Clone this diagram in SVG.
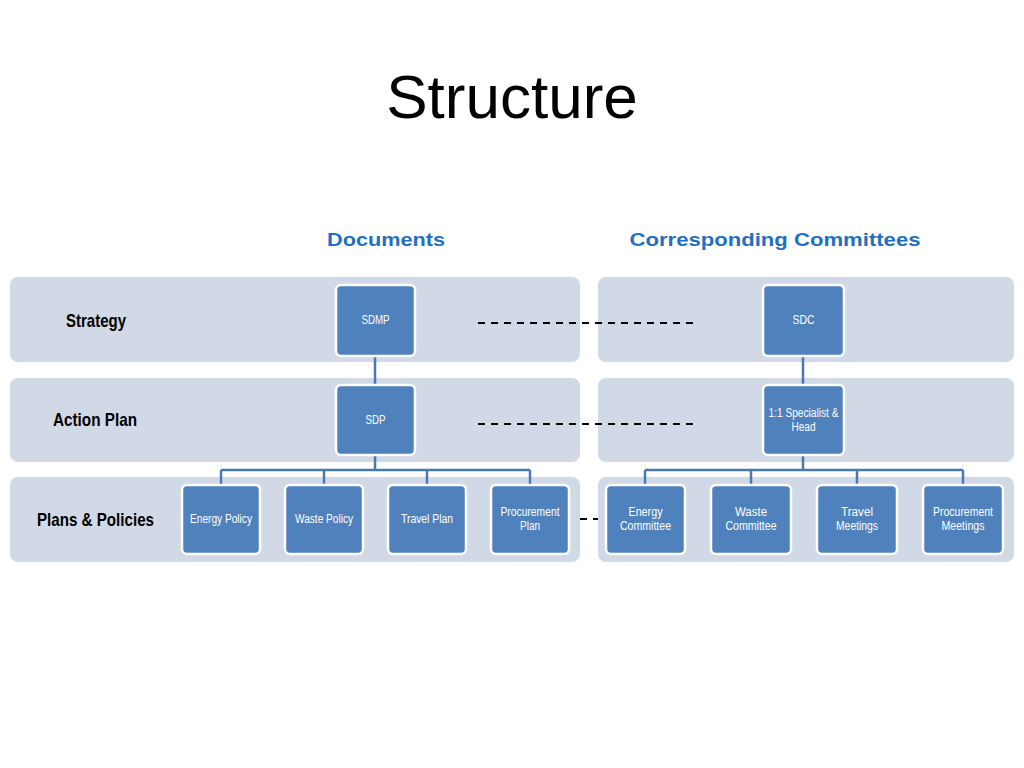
<svg xmlns="http://www.w3.org/2000/svg" width="1024" height="768" viewBox="0 0 1024 768">
<style>
.band{fill:#D1D8E6}
.box{fill:#4F81BD;stroke:#FFFFFF;stroke-width:2.5}
.bt{font-family:"Liberation Sans",Arial,sans-serif;font-size:12px;fill:#FFFFFF;text-anchor:middle}
.lbl{font-family:"Liberation Sans",Arial,sans-serif;font-size:18.5px;font-weight:bold;fill:#000000;text-anchor:middle}
.hdr{font-family:"Liberation Sans",Arial,sans-serif;font-size:19px;font-weight:bold;fill:#1F6FC4;text-anchor:middle}
.con{fill:none;stroke:#4A78AF;stroke-width:2.5}
.dash{fill:none;stroke:#000000;stroke-width:2.2;stroke-dasharray:7 6}
</style>
<rect width="1024" height="768" fill="#FFFFFF"/>
<text x="512" y="118" font-family="Liberation Sans,Arial,sans-serif" font-size="62" text-anchor="middle" fill="#000000">Structure</text>
<text class="hdr" x="386" y="246" textLength="118" lengthAdjust="spacingAndGlyphs">Documents</text>
<text class="hdr" x="775" y="246" textLength="291" lengthAdjust="spacingAndGlyphs">Corresponding Committees</text>

<g id="bands">
<rect class="band" x="10" y="277" width="570" height="85" rx="8"/>
<rect class="band" x="10" y="378" width="570" height="84" rx="8"/>
<rect class="band" x="10" y="477" width="570" height="85" rx="8"/>
<rect class="band" x="598" y="277" width="416" height="85" rx="8"/>
<rect class="band" x="598" y="378" width="416" height="84" rx="8"/>
<rect class="band" x="598" y="477" width="416" height="85" rx="8"/>
</g>
<g id="row-labels">
<text class="lbl" x="96" y="327" textLength="60" lengthAdjust="spacingAndGlyphs">Strategy</text>
<text class="lbl" x="95" y="426" textLength="84" lengthAdjust="spacingAndGlyphs">Action Plan</text>
<text class="lbl" x="95.5" y="526" textLength="117" lengthAdjust="spacingAndGlyphs">Plans &amp; Policies</text>
</g>

<g id="connectors">
<path class="con" d="M375 356V385M375 455V470M221 470H530M221 470V485M324 470V485M427 470V485M530 470V485"/>
<path class="con" d="M803 356V385M803 455V470M645 470H963M645 470V485M751 470V485M857 470V485M963 470V485"/>
<path class="dash" d="M478 323H693M478 424H693M580 519H598"/>
</g>

<g id="sdmp"><rect class="box" x="336" y="285" width="79" height="71" rx="5"/><text class="bt" x="375.5" y="324" textLength="28" lengthAdjust="spacingAndGlyphs">SDMP</text></g>
<g id="sdp"><rect class="box" x="336" y="385" width="79" height="70" rx="5"/><text class="bt" x="375.5" y="424" textLength="20" lengthAdjust="spacingAndGlyphs">SDP</text></g>
<g id="energy-policy"><rect class="box" x="182" y="485" width="78" height="69" rx="5"/><text class="bt" x="221" y="523" textLength="62" lengthAdjust="spacingAndGlyphs">Energy Policy</text></g>
<g id="waste-policy"><rect class="box" x="285" y="485" width="78" height="69" rx="5"/><text class="bt" x="324" y="523" textLength="58" lengthAdjust="spacingAndGlyphs">Waste Policy</text></g>
<g id="travel-plan"><rect class="box" x="388" y="485" width="78" height="69" rx="5"/><text class="bt" x="427" y="523" textLength="52" lengthAdjust="spacingAndGlyphs">Travel Plan</text></g>
<g id="procurement-plan"><rect class="box" x="491" y="485" width="78" height="69" rx="5"/><text class="bt" x="530" y="516" textLength="59" lengthAdjust="spacingAndGlyphs">Procurement</text><text class="bt" x="530" y="530" textLength="20" lengthAdjust="spacingAndGlyphs">Plan</text></g>

<g id="sdc"><rect class="box" x="763" y="285" width="81" height="71" rx="5"/><text class="bt" x="803.5" y="324" textLength="22" lengthAdjust="spacingAndGlyphs">SDC</text></g>
<g id="specialist"><rect class="box" x="763" y="385" width="81" height="70" rx="5"/><text class="bt" x="803.5" y="417" textLength="70" lengthAdjust="spacingAndGlyphs">1:1 Specialist &amp;</text><text class="bt" x="803.5" y="431" textLength="24" lengthAdjust="spacingAndGlyphs">Head</text></g>
<g id="energy-committee"><rect class="box" x="606" y="485" width="79" height="69" rx="5"/><text class="bt" x="645.5" y="516" textLength="34" lengthAdjust="spacingAndGlyphs">Energy</text><text class="bt" x="645.5" y="530" textLength="51" lengthAdjust="spacingAndGlyphs">Committee</text></g>
<g id="waste-committee"><rect class="box" x="711" y="485" width="80" height="69" rx="5"/><text class="bt" x="751" y="516" textLength="32" lengthAdjust="spacingAndGlyphs">Waste</text><text class="bt" x="751" y="530" textLength="51" lengthAdjust="spacingAndGlyphs">Committee</text></g>
<g id="travel-meetings"><rect class="box" x="817" y="485" width="80" height="69" rx="5"/><text class="bt" x="857" y="516" textLength="32" lengthAdjust="spacingAndGlyphs">Travel</text><text class="bt" x="857" y="530" textLength="42" lengthAdjust="spacingAndGlyphs">Meetings</text></g>
<g id="procurement-meetings"><rect class="box" x="923" y="485" width="80" height="69" rx="5"/><text class="bt" x="963" y="516" textLength="60" lengthAdjust="spacingAndGlyphs">Procurement</text><text class="bt" x="963" y="530" textLength="43" lengthAdjust="spacingAndGlyphs">Meetings</text></g>
</svg>
